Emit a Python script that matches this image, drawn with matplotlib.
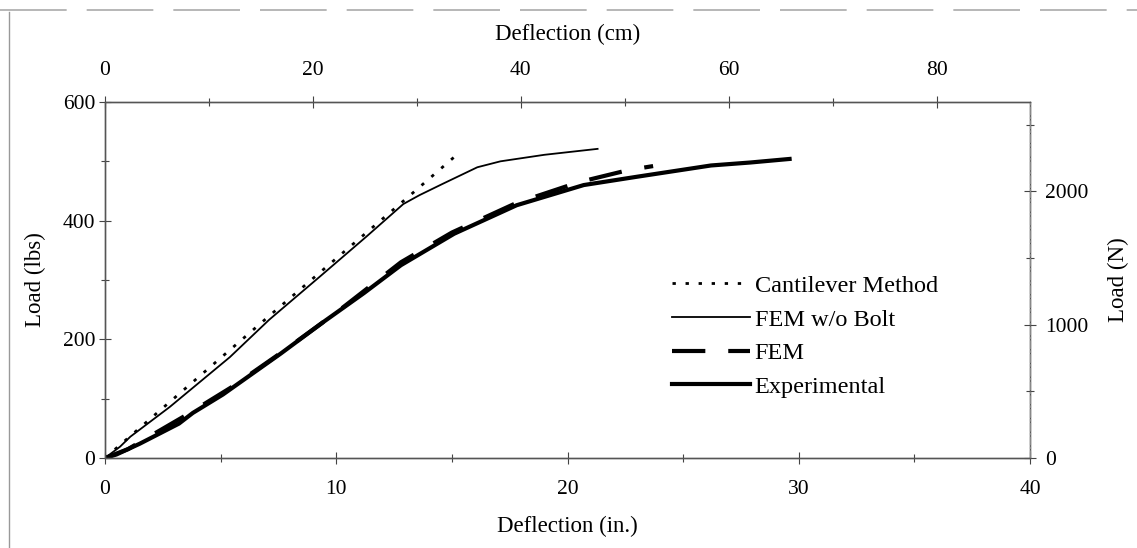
import matplotlib.pyplot as plt
from matplotlib.lines import Line2D

plt.rcParams['font.family'] = ['Liberation Serif', 'DejaVu Serif']
plt.rcParams['font.size'] = 15.5

# deflection (in.) / load (lbs)
cant_x = [0, 3.5, 7.0, 10.5, 13.2, 15.3]
cant_y = [0, 118, 236, 353, 443, 514]

wob_x = [0, 0.65, 1.1, 2.8, 5.4, 7.1, 9.3, 11.3, 12.9, 13.6, 14.6, 16.1, 17.1, 19.0, 21.3]
wob_y = [0, 19, 36, 86, 170, 233, 306, 373, 428, 443, 462, 490, 500, 511, 521]

fem_x = [0, 1.0, 2.0, 3.5, 5.5, 7.6, 10.0, 12.8, 15.0, 17.8, 20.5, 22.6, 23.7]
fem_y = [0, 15, 38, 72, 120, 177, 245, 330, 380, 430, 465, 485, 492]

exp_x = [0, 0.5, 1.5, 3.2, 3.8, 5.1, 7.6, 9.4, 11.2, 12.8, 15.1, 17.8, 20.7, 23.0, 26.2, 27.9, 29.6]
exp_y = [0, 6, 24, 58, 76, 107, 176, 228, 278, 325, 378, 426, 460, 474, 493, 498, 504]

fig = plt.figure(figsize=(11.37, 5.48), dpi=100)
ax = fig.add_axes([0.0923, 0.1642, 0.8137, 0.6497])

ax.plot(cant_x, cant_y, color='black', lw=2, linestyle=(0, (1.2, 3.5)), label='Cantilever Method')
ax.plot(wob_x, wob_y, color='black', lw=1.3, label='FEM w/o Bolt')
ax.plot(fem_x, fem_y, color='black', lw=3, linestyle=(0, (8, 5.5)), label='FEM')
ax.plot(exp_x, exp_y, color='black', lw=3, label='Experimental')

ax.set_xlim(0, 40)
ax.set_ylim(0, 600)
ax.set_xticks([0, 10, 20, 30, 40])
ax.set_xticks([5, 15, 25, 35], minor=True)
ax.set_yticks([0, 200, 400, 600])
ax.set_yticks([100, 300, 500], minor=True)
ax.set_xlabel('Deflection (in.)', fontsize=16.5, labelpad=12)
ax.set_ylabel('Load (lbs)', fontsize=16.5, labelpad=12)

# top axis in cm, right axis in N
axt = ax.twiny()
axt.set_xlim(0, 89)
axt.set_xticks([0, 20, 40, 60, 80])
axt.set_xticks([10, 30, 50, 70], minor=True)
axt.set_xlabel('Deflection (cm)', fontsize=16.5, labelpad=15)

axr = ax.twinx()
axr.set_ylim(0, 2669)
axr.set_yticks([0, 1000, 2000])
axr.set_yticks([500, 1500, 2500], minor=True)
axr.set_ylabel('Load (N)', fontsize=16.5, labelpad=14)

for a in (ax, axt, axr):
    a.tick_params(which='both', direction='inout', length=8, width=0.8, color='#444444')
    a.tick_params(which='minor', length=6)
    for s in a.spines.values():
        s.set_color('#555555')
        s.set_linewidth(0.9)
ax.tick_params(axis='x', pad=12)
axt.tick_params(axis='x', pad=12)
ax.tick_params(axis='y', pad=3)
axr.tick_params(axis='y', pad=7)
axr.spines['right'].set_color('#888888')
axr.spines['right'].set_linestyle((0, (6, 2, 1, 2)))

ax.legend(loc='upper left', bbox_to_anchor=(650 / 1137, 1 - 253 / 548),
          bbox_transform=fig.transFigure, frameon=False, handlelength=3.2,
          handletextpad=0.2, labelspacing=0.48, fontsize=17.5)

# chart area border from the original sheet
fig.add_artist(Line2D([9 / 1137, 9 / 1137], [0, 1 - 12 / 548], color='#999999', lw=1))
fig.add_artist(Line2D([0, 1], [1 - 10 / 548, 1 - 10 / 548], color='#aaaaaa', lw=1.2,
                      linestyle=(0, (40, 12))))

fig.savefig('out.png', dpi=100)
